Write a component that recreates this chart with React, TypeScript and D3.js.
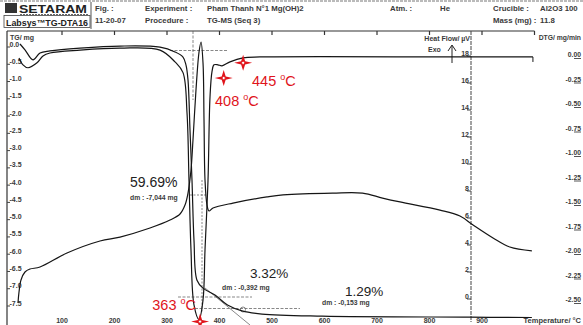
import React from 'react';
import * as d3 from 'd3';

// TG (mass change, mg)
const tgTemp = [20, 29.5, 44.8, 58.1, 77.1, 134.3, 210.5, 286.7, 315.2, 330.5, 336.2, 340, 343.8, 347.6, 351.4, 357.1, 368.6, 391.4, 415.2, 442.9, 481, 595.2, 877, 995];
const tgMass = [0.0, -0.17, -0.46, -0.26, -0.2, -0.12, -0.06, -0.09, -0.23, -0.38, -0.61, -1.04, -2.49, -3.94, -5.68, -6.84, -7.07, -7.27, -7.56, -7.73, -7.82, -7.88, -7.91, -7.92];

// DTG (mg/min)
const dtgTemp = [18.1, 25.7, 35.2, 52.4, 63.8, 77.1, 134.3, 210.5, 286.7, 315.2, 330.5, 338.1, 341.9, 345.7, 351.4, 361, 368.6, 372.4, 378.1, 381.9, 385.7, 389.5, 397, 404.8, 420, 444.8, 477.1, 877, 997];
const dtgRate = [-0.03, -0.1, -0.13, -0.08, -0.01, 0.02, 0.05, 0.07, 0.05, -0.07, -0.18, -0.59, -1.28, -1.99, -2.55, -2.7, -2.5, -1.99, -1.28, -0.43, -0.17, -0.1, -0.1, -0.11, -0.07, -0.03, -0.02, -0.02, -0.02];

// Heat flow (µV)
const hfTemp = [16.2, 18.1, 21.9, 29.5, 39, 58.1, 109.5, 172.4, 210.5, 267.6, 305.7, 324.8, 334.3, 340, 345.7, 349.5, 355.2, 361, 364.8, 368.6, 370.5, 372.4, 376.2, 380, 387.6, 425.7, 490.5, 521, 615.2, 672.4, 710.5, 743.8, 820, 858, 883, 921, 953, 995];
const hfVal = [-0.44, 0.37, 1.26, 1.85, 2.07, 2.22, 3.26, 4.15, 4.44, 5.11, 5.7, 6.15, 6.81, 7.7, 9.41, 11.63, 15.33, 18.15, 18.89, 17.33, 13.11, 8.67, 6.81, 6.37, 6.59, 6.96, 7.41, 7.56, 7.7, 7.7, 7.33, 7.04, 6.44, 6.0, 5.33, 4.37, 3.7, 3.41];

// axes
const tempTicks = [100, 200, 300, 400, 500, 600, 700, 800, 900];
const topTicks = [100, 200, 300, 400, 500, 600, 700, 800, 900, 1000];
const tgTicks = [0, -0.5, -1, -1.5, -2, -2.5, -3, -3.5, -4, -4.5, -5, -5.5, -6, -6.5, -7, -7.5];
const tgTickLabels = ['0.0', '-0.5', '-1.0', '-1.5', '-2.0', '-2.5', '-3.0', '-3.5', '-4.0', '-4.5', '-5.0', '-5.5', '-6.0', '-6.5', '-7.0', '-7.5'];
const hfTicks = [18, 16, 14, 12, 10, 8, 6, 4, 2, 0];
const dtgTicks = [0, -0.25, -0.5, -0.75, -1, -1.25, -1.5, -1.75, -2, -2.25, -2.5];
const dtgTickLabels = ['0.00', '-0.25', '-0.50', '-0.75', '-1.00', '-1.25', '-1.50', '-1.75', '-2.00', '-2.25', '-2.50'];

// peak markers
const markerTemps = [363, 408, 445];
const markerDtg = [-2.72, -0.235, -0.08];
const markerLabels = ['363', '408', '445'];

const FONT = '"Liberation Sans", Arial, sans-serif';
const INK = '#3a3a3a';

const x = d3.scaleLinear().domain([0, 1000]).range([9.5, 534.5]);
const yTg = d3.scaleLinear().domain([-7.5, 0]).range([303, 44]);
const yDtg = d3.scaleLinear().domain([-2.5, 0]).range([300, 55]);
const yHf = d3.scaleLinear().domain([0, 18]).range([297, 54]);

const lineOf = (ys: d3.ScaleLinear<number, number>, t: number[], v: number[]) =>
  d3.line<number>().x((_, i) => x(t[i])).y((d) => ys(d)).curve(d3.curveCatmullRom.alpha(0.5))(v) || '';

const star = (cx: number, cy: number) =>
  `M${cx - 9},${cy} L${cx - 2},${cy - 1.6} L${cx},${cy - 8} L${cx + 2},${cy - 1.6} L${cx + 9},${cy} L${cx + 2},${cy + 1.6} L${cx},${cy + 8} L${cx - 2},${cy + 1.6} Z`;

const Hdr = ({ x: tx, y, children, w = 'bold' }: any) => (
  <text x={tx} y={y} fontSize={7.8} fontWeight={w} fill={INK} fontFamily={FONT}>{children}</text>
);

export default function App() {
  const labelPos = [
    { x: 196, y: 309.5, anchor: 'end' },
    { x: 215, y: 105.5, anchor: 'start' },
    { x: 252, y: 85.5, anchor: 'start' },
  ];
  return (
    <svg width={583} height={325} style={{ position: 'absolute', left: 0, top: 0, background: '#fff' }}>
      <rect width={583} height={325} fill="#fff" />
      {/* header */}
      <line x1={0} x2={583} y1={1} y2={1} stroke="#777" strokeDasharray="3 1" />
      <rect x={5} y={3} width={12} height={10} fill="#333" />
      <text x={19} y={12.5} fontSize={11} fontWeight="bold" fill="#222" fontFamily={FONT} textLength={68} lengthAdjust="spacingAndGlyphs">SETARAM</text>
      <line x1={20} x2={88} y1={14.5} y2={14.5} stroke="#666" strokeDasharray="2 1" />
      <rect x={4} y={15.5} width={86} height={12} fill="none" stroke="#444" strokeWidth={0.8} />
      <text x={6} y={26} fontSize={9} fontWeight="bold" fill="#222" fontFamily={FONT} textLength={82} lengthAdjust="spacingAndGlyphs">Labsys™TG-DTA16</text>
      <line x1={91} x2={91} y1={2} y2={29} stroke="#555" />
      <Hdr x={95} y={11}>Fig. :</Hdr>
      <Hdr x={95} y={23}>11-20-07</Hdr>
      <Hdr x={145} y={11}>Experiment :</Hdr>
      <Hdr x={145} y={23}>Procedure :</Hdr>
      <Hdr x={207} y={11}>Pham Thanh N°1 Mg(OH)2</Hdr>
      <Hdr x={207} y={23}>TG-MS (Seq 3)</Hdr>
      <Hdr x={390} y={11}>Atm. :</Hdr>
      <Hdr x={440} y={11}>He</Hdr>
      <Hdr x={493} y={11}>Crucible :</Hdr>
      <Hdr x={540} y={11}>Al2O3 100</Hdr>
      <Hdr x={493} y={23}>Mass (mg) :</Hdr>
      <Hdr x={540} y={23}>11.8</Hdr>

      {/* frame */}
      <line x1={7} x2={x(1000)} y1={31} y2={31} stroke="#333" strokeWidth={1.2} />
      <line x1={7} x2={7} y1={31} y2={325} stroke="#333" strokeWidth={1.2} />
      <line x1={471} x2={471} y1={31} y2={322} stroke="#444" strokeDasharray="4 1" />
      {topTicks.map((t) => (
        <line key={t} x1={x(t)} x2={x(t)} y1={31} y2={35} stroke="#333" strokeWidth={1.2} />
      ))}

      {/* TG axis */}
      <text x={10} y={40} fontSize={7} fontWeight="bold" fill={INK} fontFamily={FONT}>TG/ mg</text>
      {tgTicks.map((t, i) => (
        <g key={t}>
          <line x1={7} x2={10} y1={yTg(t) + 3} y2={yTg(t) + 3} stroke="#444" />
          <text x={9.5} y={yTg(t) + 2.5} fontSize={7} fontWeight="bold" fill={INK} fontFamily={FONT}>{tgTickLabels[i]}</text>
        </g>
      ))}

      {/* heat flow axis */}
      <text x={470} y={41} textAnchor="end" fontSize={7} fontWeight="bold" fill={INK} fontFamily={FONT}>Heat Flow/ µV</text>
      <text x={428} y={52} fontSize={7} fontWeight="bold" fill={INK} fontFamily={FONT}>Exo</text>
      <line x1={452} x2={452} y1={46} y2={63} stroke="#222" />
      <path d="M448,51 L452,45 L456,51" fill="none" stroke="#222" />
      {hfTicks.map((t) => (
        <g key={t}>
          <line x1={467} x2={471} y1={yHf(t) + 2} y2={yHf(t) + 2} stroke="#444" />
          <text x={469} y={yHf(t) + 2} textAnchor="end" fontSize={7} fontWeight="bold" fill={INK} fontFamily={FONT}>{t}</text>
        </g>
      ))}

      {/* DTG axis */}
      <text x={581} y={40} textAnchor="end" fontSize={6.8} fontWeight="bold" fill={INK} fontFamily={FONT}>DTG/ mg/min</text>
      {dtgTicks.map((t, i) => (
        <g key={t}>
          <text x={581} y={yDtg(t) + 2} textAnchor="end" fontSize={6.8} fontWeight="bold" fill={INK} fontFamily={FONT}>{dtgTickLabels[i]}</text>
          <line x1={574} x2={581} y1={yDtg(t) + 3.5} y2={yDtg(t) + 3.5} stroke="#555" />
        </g>
      ))}

      {/* temperature axis labels */}
      {tempTicks.map((t) => (
        <text key={t} x={x(t)} y={323} textAnchor="middle" fontSize={7} fontWeight="bold" fill={INK} fontFamily={FONT}>{t}</text>
      ))}
      <text x={581} y={323} textAnchor="end" fontSize={7.5} fontWeight="bold" fill={INK} fontFamily={FONT}>Temperature/ °C</text>

      {/* analysis construction lines */}
      <g stroke="#555" strokeWidth={0.7} fill="none">
        <line x1={170} x2={228} y1={50.5} y2={50.5} strokeDasharray="3 1.5" />
        <line x1={193} x2={193} y1={31} y2={100} strokeDasharray="3 1.5" />
        <line x1={190} x2={208} y1={195} y2={195} strokeDasharray="2 1.5" />
        <line x1={202} x2={202} y1={180} y2={312} strokeDasharray="2 1.5" />
        <line x1={178} x2={252} y1={297} y2={297} strokeDasharray="3 1.5" />
        <line x1={195} x2={300} y1={308.5} y2={308.5} strokeDasharray="3 1.5" />
        <line x1={205} x2={250} y1={288} y2={325} />
        <circle cx={243} cy={309.5} r={2.5} />
      </g>

      {/* curves */}
      <path d={lineOf(yHf, hfTemp, hfVal)} fill="none" stroke="#151515" strokeWidth={1.2} />
      <path d={lineOf(yTg, tgTemp, tgMass)} fill="none" stroke="#151515" strokeWidth={1.2} />
      <path d={lineOf(yDtg, dtgTemp, dtgRate)} fill="none" stroke="#151515" strokeWidth={1.2} />
      <line x1={x(997)} x2={x(997)} y1={yDtg(-0.02)} y2={yDtg(-0.02) + 5} stroke="#151515" />

      {/* step annotations */}
      <text x={130} y={187} fontSize={14} fill="#222" fontFamily={FONT}>59.69%</text>
      <text x={130} y={199.5} fontSize={6.8} fontWeight="bold" fill={INK} fontFamily={FONT}>dm : -7,044 mg</text>
      <text x={250} y={278} fontSize={13.5} fill="#222" fontFamily={FONT}>3.32%</text>
      <text x={222} y={290} fontSize={6.8} fontWeight="bold" fill={INK} fontFamily={FONT}>dm : -0,392 mg</text>
      <text x={345} y={295.5} fontSize={13.5} fill="#222" fontFamily={FONT}>1.29%</text>
      <text x={322} y={305} fontSize={6.8} fontWeight="bold" fill={INK} fontFamily={FONT}>dm : -0,153 mg</text>

      {/* peak markers */}
      {markerTemps.map((t, i) => {
        const cx = x(t);
        const cy = yDtg(markerDtg[i]);
        const p = labelPos[i];
        return (
          <g key={t}>
            <path d={star(cx, cy)} fill="#e0141b" />
            <circle cx={cx} cy={cy} r={1.6} fill="#fff" stroke="#e0141b" strokeWidth={0.8} />
            <text x={p.x} y={p.y} textAnchor={p.anchor as any} fontSize={14.5} fill="#e0141b" fontFamily={FONT}>
              {markerLabels[i]} <tspan fontSize={9} dy={-6}>o</tspan><tspan dy={6}>C</tspan>
            </text>
          </g>
        );
      })}
    </svg>
  );
}
